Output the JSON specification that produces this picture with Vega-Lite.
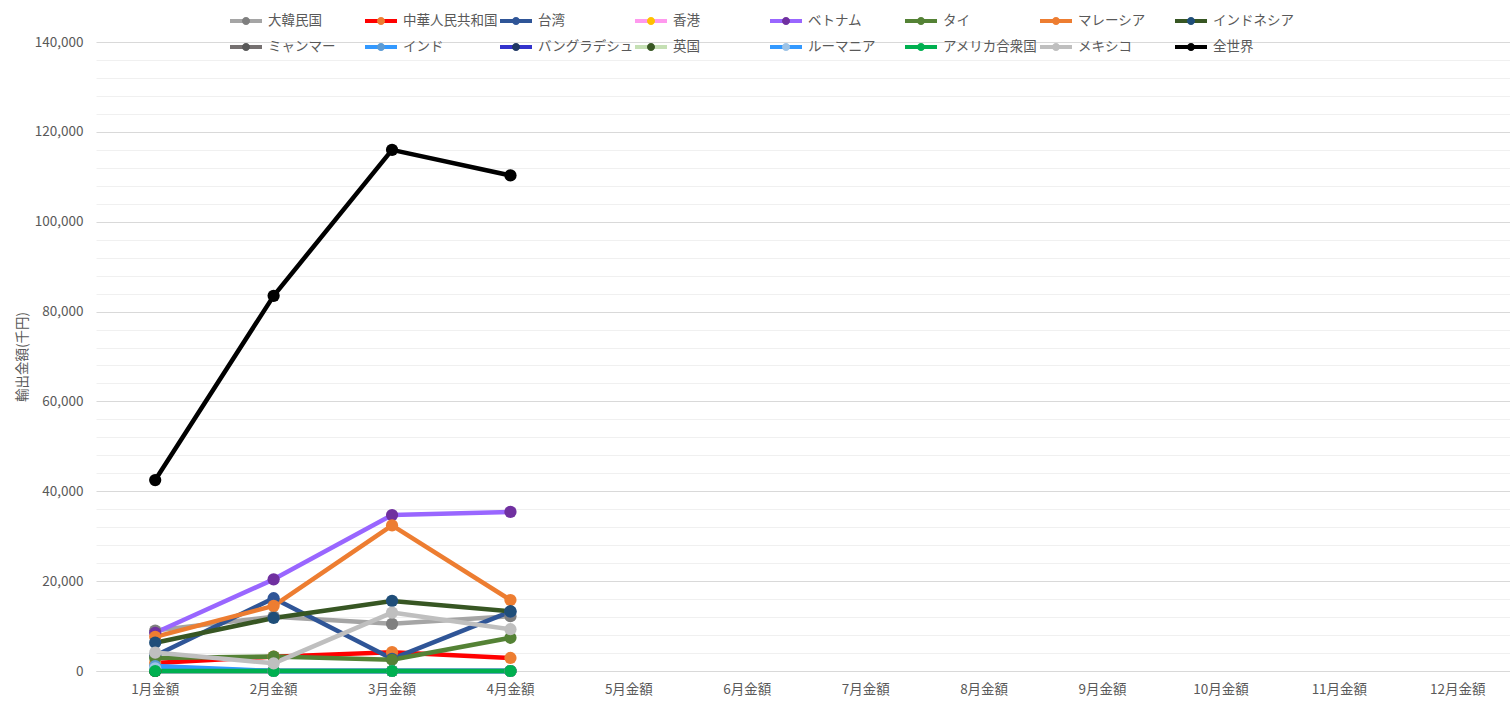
{
  "$schema": "https://vega.github.io/schema/vega-lite/v6.json",
  "width": 1421,
  "height": 629,
  "autosize": {"type": "none"},
  "padding": {"left": 96, "top": 42, "right": 0, "bottom": 31},
  "background": "white",
  "config": {"view": {"stroke": null}, "font": "Noto Sans CJK JP"},
  "data": {
    "values": [
      {"country": "大韓民国", "month": "1月金額", "value": 9000},
      {"country": "大韓民国", "month": "2月金額", "value": 12100},
      {"country": "大韓民国", "month": "3月金額", "value": 10500},
      {"country": "大韓民国", "month": "4月金額", "value": 12200},
      {"country": "中華人民共和国", "month": "1月金額", "value": 1800},
      {"country": "中華人民共和国", "month": "2月金額", "value": 3200},
      {"country": "中華人民共和国", "month": "3月金額", "value": 4200},
      {"country": "中華人民共和国", "month": "4月金額", "value": 2900},
      {"country": "台湾", "month": "1月金額", "value": 3400},
      {"country": "台湾", "month": "2月金額", "value": 16200},
      {"country": "台湾", "month": "3月金額", "value": 2700},
      {"country": "台湾", "month": "4月金額", "value": 13200},
      {"country": "香港", "month": "1月金額", "value": 0},
      {"country": "香港", "month": "2月金額", "value": 0},
      {"country": "香港", "month": "3月金額", "value": 0},
      {"country": "香港", "month": "4月金額", "value": 0},
      {"country": "ベトナム", "month": "1月金額", "value": 8500},
      {"country": "ベトナム", "month": "2月金額", "value": 20400},
      {"country": "ベトナム", "month": "3月金額", "value": 34700},
      {"country": "ベトナム", "month": "4月金額", "value": 35400},
      {"country": "タイ", "month": "1月金額", "value": 2900},
      {"country": "タイ", "month": "2月金額", "value": 3200},
      {"country": "タイ", "month": "3月金額", "value": 2500},
      {"country": "タイ", "month": "4月金額", "value": 7400},
      {"country": "マレーシア", "month": "1月金額", "value": 7600},
      {"country": "マレーシア", "month": "2月金額", "value": 14500},
      {"country": "マレーシア", "month": "3月金額", "value": 32400},
      {"country": "マレーシア", "month": "4月金額", "value": 15800},
      {"country": "インドネシア", "month": "1月金額", "value": 6300},
      {"country": "インドネシア", "month": "2月金額", "value": 11800},
      {"country": "インドネシア", "month": "3月金額", "value": 15600},
      {"country": "インドネシア", "month": "4月金額", "value": 13300},
      {"country": "ミャンマー", "month": "1月金額", "value": 0},
      {"country": "ミャンマー", "month": "2月金額", "value": 0},
      {"country": "ミャンマー", "month": "3月金額", "value": 0},
      {"country": "ミャンマー", "month": "4月金額", "value": 0},
      {"country": "インド", "month": "1月金額", "value": 1100},
      {"country": "インド", "month": "2月金額", "value": 0},
      {"country": "インド", "month": "3月金額", "value": 0},
      {"country": "インド", "month": "4月金額", "value": 0},
      {"country": "バングラデシュ", "month": "1月金額", "value": 0},
      {"country": "バングラデシュ", "month": "2月金額", "value": 0},
      {"country": "バングラデシュ", "month": "3月金額", "value": 0},
      {"country": "バングラデシュ", "month": "4月金額", "value": 0},
      {"country": "英国", "month": "1月金額", "value": 0},
      {"country": "英国", "month": "2月金額", "value": 0},
      {"country": "英国", "month": "3月金額", "value": 0},
      {"country": "英国", "month": "4月金額", "value": 0},
      {"country": "ルーマニア", "month": "1月金額", "value": 600},
      {"country": "ルーマニア", "month": "2月金額", "value": 0},
      {"country": "ルーマニア", "month": "3月金額", "value": 0},
      {"country": "ルーマニア", "month": "4月金額", "value": 0},
      {"country": "アメリカ合衆国", "month": "1月金額", "value": 0},
      {"country": "アメリカ合衆国", "month": "2月金額", "value": 0},
      {"country": "アメリカ合衆国", "month": "3月金額", "value": 0},
      {"country": "アメリカ合衆国", "month": "4月金額", "value": 0},
      {"country": "メキシコ", "month": "1月金額", "value": 4100},
      {"country": "メキシコ", "month": "2月金額", "value": 1700},
      {"country": "メキシコ", "month": "3月金額", "value": 13000},
      {"country": "メキシコ", "month": "4月金額", "value": 9300},
      {"country": "全世界", "month": "1月金額", "value": 42500},
      {"country": "全世界", "month": "2月金額", "value": 83500},
      {"country": "全世界", "month": "3月金額", "value": 116000},
      {"country": "全世界", "month": "4月金額", "value": 110300}
    ]
  },
  "encoding": {
    "x": {
      "field": "month",
      "type": "nominal",
      "sort": null,
      "scale": {
        "type": "band",
        "domain": ["1月金額", "2月金額", "3月金額", "4月金額", "5月金額", "6月金額", "7月金額", "8月金額", "9月金額", "10月金額", "11月金額", "12月金額"],
        "paddingInner": 0,
        "paddingOuter": 0
      },
      "axis": {
        "title": null,
        "labelAngle": 0,
        "ticks": false,
        "grid": false,
        "domain": true,
        "domainColor": "#d9d9d9",
        "domainWidth": 1,
        "labelFontSize": 13.5,
        "labelColor": "#595959",
        "labelPadding": 11
      }
    },
    "y": {
      "field": "value",
      "type": "quantitative",
      "scale": {"domain": [0, 140000], "nice": false},
      "axis": {
        "title": "輸出金額(千円)",
        "values": [0, 4000, 8000, 12000, 16000, 20000, 24000, 28000, 32000, 36000, 40000, 44000, 48000, 52000, 56000, 60000, 64000, 68000, 72000, 76000, 80000, 84000, 88000, 92000, 96000, 100000, 104000, 108000, 112000, 116000, 120000, 124000, 128000, 132000, 136000, 140000],
        "labelExpr": "datum.value % 20000 === 0 ? format(datum.value, ',') : ''",
        "domain": false,
        "ticks": false,
        "grid": true,
        "gridColor": {"condition": {"test": "datum.value % 20000 === 0", "value": "#d9d9d9"}, "value": "#f0f0f0"},
        "labelFontSize": 13.5,
        "labelColor": "#595959",
        "labelPadding": 13,
        "titleFontSize": 13.5,
        "titleColor": "#595959",
        "titleFontWeight": "normal",
        "titlePadding": 5
      }
    }
  },
  "layer": [
    {
      "mark": {"type": "line", "strokeWidth": 4.5, "strokeCap": "round", "strokeJoin": "round"},
      "encoding": {
        "stroke": {
          "field": "country",
          "type": "nominal",
          "scale": {
            "domain": ["大韓民国", "中華人民共和国", "台湾", "香港", "ベトナム", "タイ", "マレーシア", "インドネシア", "ミャンマー", "インド", "バングラデシュ", "英国", "ルーマニア", "アメリカ合衆国", "メキシコ", "全世界"],
            "range": ["#A5A5A5", "#FF0000", "#2F5597", "#FF99EE", "#9966FF", "#548235", "#ED7D31", "#375623", "#767171", "#3399FF", "#3333CC", "#C5E0B4", "#3399FF", "#00B050", "#BFBFBF", "#000000"]
          },
          "legend": {
            "orient": "none",
            "legendX": 132,
            "legendY": -29,
            "columns": 8,
            "direction": "horizontal",
            "title": null,
            "symbolType": "stroke",
            "symbolSize": 1024,
            "symbolStrokeWidth": 4,
            "clipHeight": 16,
            "gridAlign": "all",
            "columnPadding": 0,
            "rowPadding": 10,
            "labelFontSize": 13.5,
            "labelColor": "#595959",
            "labelOffset": 4,
            "labelLimit": 200,
            "padding": 0,
            "zindex": 1
          }
        }
      }
    },
    {
      "mark": {"type": "circle", "size": 150, "opacity": 1},
      "encoding": {
        "fill": {
          "field": "country",
          "type": "nominal",
          "sort": ["大韓民国", "中華人民共和国", "台湾", "香港", "ベトナム", "タイ", "マレーシア", "インドネシア", "ミャンマー", "インド", "バングラデシュ", "英国", "ルーマニア", "アメリカ合衆国", "メキシコ", "全世界"],
          "scale": {
            "range": ["#7F7F7F", "#ED7D31", "#2F5597", "#FFC000", "#7030A0", "#548235", "#ED7D31", "#1F4E79", "#595959", "#5B9BD5", "#203864", "#385723", "#9DC3E6", "#00B050", "#BFBFBF", "#000000"]
          },
          "legend": {
            "orient": "none",
            "legendX": 132,
            "legendY": -29,
            "columns": 8,
            "direction": "horizontal",
            "title": null,
            "symbolType": "M0.25,0A0.25,0.25,0,1,1,-0.25,0A0.25,0.25,0,1,1,0.25,0Z",
            "symbolSize": 1024,
            "symbolStrokeWidth": 4,
            "symbolStrokeColor": "transparent",
            "symbolOpacity": 1,
            "clipHeight": 16,
            "gridAlign": "all",
            "columnPadding": 0,
            "rowPadding": 10,
            "labelFontSize": 13.5,
            "labelColor": "#595959",
            "labelOpacity": 0,
            "labelOffset": 4,
            "labelLimit": 200,
            "padding": 0,
            "zindex": 2
          }
        }
      }
    }
  ]
}
